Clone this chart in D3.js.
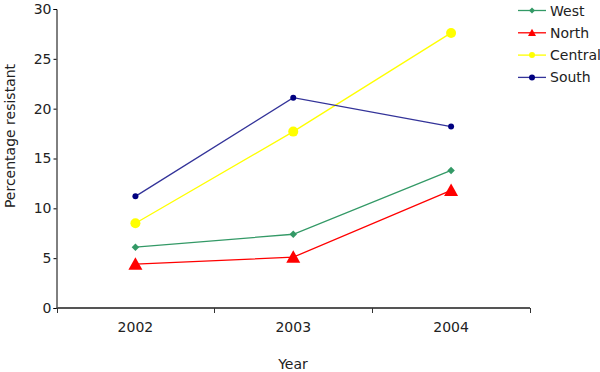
<!DOCTYPE html>
<html><head><meta charset="utf-8">
<script src="https://cdn.jsdelivr.net/npm/d3@7"></script>
<style>body{margin:0;background:#fff}svg{display:block;font-family:"DejaVu Sans",Verdana,sans-serif}</style>
</head><body><svg id="c" width="600" height="372"></svg>
<script>
const years = ["2002","2003","2004"];
const west = [6.1, 7.4, 13.8];
const north = [4.4, 5.1, 11.8];
const central = [8.5, 17.7, 27.6];
const south = [11.2, 21.1, 18.2];
const yTicks = [0,5,10,15,20,25,30];
const seriesNames = ["West","North","Central","South"];

const series = [
  {name:"West", values:west, line:"#339966", fill:"#339966", shape:"diamond", size:5},
  {name:"North", values:north, line:"#FF0000", fill:"#FF0000", shape:"triangle", size:7},
  {name:"Central", values:central, line:"#FFFF00", fill:"#FFFF00", shape:"circle", size:5},
  {name:"South", values:south, line:"#333399", fill:"#000080", shape:"circle", size:3}
];

const svg = d3.select("#c");
const x = d3.scaleBand().domain(years).range([56.5, 530]);
const y = d3.scaleLinear().domain([0,30]).range([308, 9]);

// y axis
const ya = svg.append("g").attr("transform","translate(56.5,0)")
  .call(d3.axisLeft(y).tickValues(yTicks).tickSize(3).tickPadding(2));
ya.select(".domain").attr("stroke","#000");
ya.selectAll(".tick text").attr("font-size",14).attr("fill","#222").attr("font-family","DejaVu Sans");

// x axis
const xa = svg.append("g").attr("transform","translate(0,308)");
xa.append("line").attr("x1",56.5).attr("x2",530).attr("y1",0).attr("y2",0).attr("stroke","#555").attr("stroke-width",2);
const edges = years.map(d=>x(d)).concat([x(years[years.length-1])+x.bandwidth()]);
xa.selectAll("line.t").data(edges).enter().append("line").attr("class","t")
  .attr("x1",d=>Math.round(d)+0.5).attr("x2",d=>Math.round(d)+0.5).attr("y1",0).attr("y2",5).attr("stroke","#333");
xa.selectAll("text").data(years).enter().append("text")
  .attr("x",d=>x(d)+x.bandwidth()/2).attr("y",24).attr("text-anchor","middle")
  .attr("font-size",14).attr("fill","#222").text(d=>d);

// axis titles
svg.append("text").attr("x",y.range ? 293 : 0).attr("y",369).attr("text-anchor","middle").attr("font-size",14).attr("fill","#222").text("Year");
svg.append("text").attr("transform","translate(15,136) rotate(-90)").attr("text-anchor","middle").attr("font-size",14).attr("fill","#222").text("Percentage resistant");

function marker(g, s, cx, cy){
  if(s.shape==="circle"){
    g.append("circle").attr("cx",cx).attr("cy",cy).attr("r",s.size).attr("fill",s.fill);
  } else if(s.shape==="triangle"){
    const r=s.size;
    g.append("path").attr("d",`M${cx},${cy-r}L${cx+r},${cy+r*0.8}L${cx-r},${cy+r*0.8}Z`).attr("fill",s.fill);
  } else {
    const r=s.size*0.75;
    g.append("path").attr("d",`M${cx},${cy-r}L${cx+r},${cy}L${cx},${cy+r}L${cx-r},${cy}Z`).attr("fill",s.fill);
  }
}

const cxf = d=>x(d)+x.bandwidth()/2;
const line = d3.line().x((v,i)=>cxf(years[i])).y(v=>y(v));
series.forEach(s=>{
  const g = svg.append("g");
  g.append("path").attr("d",line(s.values)).attr("fill","none").attr("stroke",s.line).attr("stroke-width",1.3);
  s.values.forEach((v,i)=>marker(g,s,cxf(years[i]),y(v)));
});

// legend
const leg = svg.append("g");
series.forEach((s,i)=>{
  const yy = 10.5 + i*22.3;
  leg.append("line").attr("x1",518).attr("x2",546).attr("y1",yy).attr("y2",yy).attr("stroke",s.line).attr("stroke-width",1.3);
  const ls = Object.assign({}, s, {size: s.shape==="circle" ? 3 : (s.shape==="triangle"?4:4)});
  marker(leg, ls, 532, yy);
  leg.append("text").attr("x",550).attr("y",yy+5).attr("font-size",14).attr("fill","#222").text(seriesNames[i]);
});
</script></body></html>
